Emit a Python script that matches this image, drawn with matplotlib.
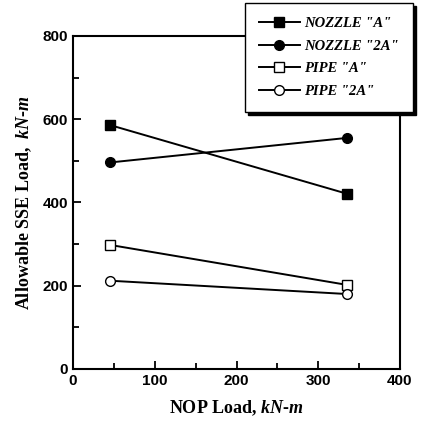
import matplotlib
matplotlib.use('Agg')
import matplotlib.pyplot as plt
from matplotlib.ticker import MultipleLocator

# Data
nop_load = [45, 335]
nozzle_a = [586, 421]
nozzle_2a = [496, 555]
pipe_a = [298, 202]
pipe_2a = [212, 180]

labels = ['NOZZLE "A"', 'NOZZLE "2A"', 'PIPE "A"', 'PIPE "2A"']

plt.rcParams['mathtext.fontset'] = 'custom'
plt.rcParams['mathtext.it'] = 'Liberation Serif:italic:bold'
plt.rcParams['mathtext.rm'] = 'Liberation Serif:bold'

fig = plt.figure(figsize=(4.25, 4.28), dpi=100)
ax = fig.add_axes([0.172, 0.138, 0.769, 0.778])

ms = 6.5
ax.plot(nop_load, nozzle_a, '-s', color='black', lw=1.4, ms=ms, label=labels[0])
ax.plot(nop_load, nozzle_2a, '-o', color='black', lw=1.4, ms=ms + 0.5, label=labels[1])
ax.plot(nop_load, pipe_a, '-s', color='black', lw=1.4, ms=ms, mfc='white', label=labels[2])
ax.plot(nop_load, pipe_2a, '-o', color='black', lw=1.4, ms=ms + 0.5, mfc='white', label=labels[3])

ax.set_xlim(0, 400)
ax.set_ylim(0, 800)
ax.xaxis.set_major_locator(MultipleLocator(100))
ax.xaxis.set_minor_locator(MultipleLocator(50))
ax.yaxis.set_major_locator(MultipleLocator(200))
ax.yaxis.set_minor_locator(MultipleLocator(100))
ax.tick_params(which='both', direction='in', width=1.3)
ax.tick_params(which='major', length=6)
ax.tick_params(which='minor', length=4)
for lab in ax.get_xticklabels() + ax.get_yticklabels():
    lab.set_fontfamily('Liberation Sans')
    lab.set_fontweight('bold')
    lab.set_fontsize(11)
for s in ax.spines.values():
    s.set_linewidth(1.5)

ax.set_xlabel('NOP Load, $kN$-$m$', fontfamily='Liberation Serif',
              fontweight='bold', fontsize=13, labelpad=8)
ax.set_ylabel('Allowable SSE Load,  $kN$-$m$', fontfamily='Liberation Serif',
              fontweight='bold', fontsize=13, labelpad=6)

leg = ax.legend(loc='upper left', bbox_to_anchor=(0.577, 0.993),
                bbox_transform=fig.transFigure, borderaxespad=0,
                fancybox=False, shadow={'color': 'black', 'alpha': 1},
                edgecolor='black', framealpha=1, handlelength=2.8,
                prop={'family': 'Liberation Serif', 'weight': 'bold',
                      'style': 'italic', 'size': 10.5},
                borderpad=0.95, labelspacing=0.65, handletextpad=0.3)
leg.get_frame().set_linewidth(1.0)

fig.savefig('out.png', dpi=100)
